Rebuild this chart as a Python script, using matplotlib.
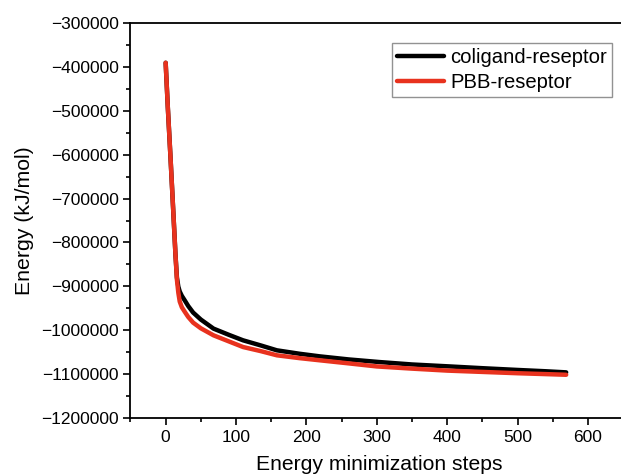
import numpy as np
import matplotlib
matplotlib.use('Agg')
import matplotlib.pyplot as plt
from matplotlib.ticker import MultipleLocator, FuncFormatter

# values
steps_black = [0, 3, 7, 11, 14, 16, 18, 20, 23, 27, 32, 39, 50, 68, 90, 110, 135, 158, 190, 219, 260, 304, 350, 404, 450, 500, 540, 569]
energy_black = [-390000, -490000, -610000, -735000, -830000, -880000, -901000, -912000, -922000, -932000,
                -945000, -960000, -976000, -996700, -1011000, -1023400, -1035000, -1046200, -1054000,
                -1060000, -1067000, -1073000, -1078500, -1083000, -1087000, -1091000, -1094000, -1096500]
steps_red = [0, 3, 7, 11, 14, 16, 18, 20, 23, 27, 32, 39, 50, 68, 90, 110, 135, 158, 190, 219, 260, 300, 350, 400, 450, 500, 540, 569]
energy_red = [-390000, -490000, -610000, -735000, -830000, -885000, -915000, -935000, -948000, -958000,
              -970000, -983000, -996000, -1012000, -1026000, -1038700, -1048000, -1057600, -1064000,
              -1069000, -1076000, -1083000, -1088000, -1092500, -1095500, -1098500, -1100500, -1102000]
xticks = [0, 100, 200, 300, 400, 500, 600]

plt.rcParams['font.family'] = ['Liberation Sans', 'DejaVu Sans']

fig = plt.figure(figsize=(6.21, 4.75), dpi=100)
ax = fig.add_axes([0.2101, 0.1206, 0.80, 0.8303])

ax.plot(steps_black, energy_black, color='black', lw=3.2, label='coligand-reseptor',
        solid_capstyle='round', solid_joinstyle='round')
ax.plot(steps_red, energy_red, color='#e8321e', lw=3.2, label='PBB-reseptor',
        solid_capstyle='round', solid_joinstyle='round')

ax.set_xlim(-50, -50 + 700 * 0.80 / 0.7934)
ax.set_ylim(-1200000, -300000)
ax.set_xticks(xticks)
ax.xaxis.set_minor_locator(MultipleLocator(50))
ax.yaxis.set_major_locator(MultipleLocator(100000))
ax.yaxis.set_minor_locator(MultipleLocator(50000))
ax.yaxis.set_major_formatter(FuncFormatter(lambda v, p: f'{int(round(v))}'.replace('-', '\u2212')))
ax.tick_params(which='major', direction='out', length=5, width=1.2, labelsize=12.5)
ax.tick_params(which='minor', direction='out', length=3, width=1.2)
for s in ax.spines.values():
    s.set_linewidth(1.3)
ax.spines['right'].set_visible(False)

ax.set_xlabel('Energy minimization steps', fontsize=15.2, labelpad=7.5)
ax.set_ylabel('Energy (kJ/mol)', fontsize=15.3, labelpad=5)

leg = ax.legend(loc='upper left', bbox_to_anchor=(0.527, 0.950), fontsize=14.6, frameon=True,
                fancybox=False, edgecolor='#777777', handlelength=2.3, handletextpad=0.3,
                borderpad=0.25, labelspacing=0.3, borderaxespad=0)
leg.get_frame().set_linewidth(1.0)

fig.savefig('out.png', dpi=100)
